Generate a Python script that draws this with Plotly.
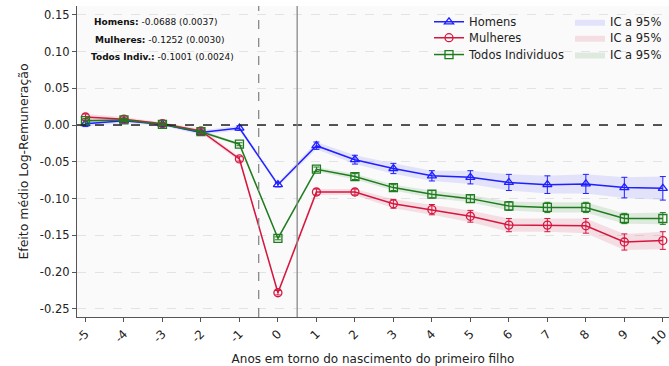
import plotly.graph_objects as go

# Event-study estimates around the birth of the first child
anos = list(range(-5, 11))

homens = [0.002, 0.006, 0.001, -0.010, -0.004, -0.081, -0.028, -0.047,
          -0.059, -0.069, -0.071, -0.078, -0.081, -0.080, -0.085, -0.086]
homens_ic = [0.004, 0.003, 0.002, 0.003, 0.003, 0.003, 0.005, 0.006,
             0.007, 0.007, 0.009, 0.011, 0.012, 0.013, 0.014, 0.016]

mulheres = [0.011, 0.008, 0.002, -0.008, -0.046, -0.228, -0.091, -0.091,
            -0.107, -0.115, -0.124, -0.136, -0.136, -0.137, -0.159, -0.157]
mulheres_ic = [0.004, 0.003, 0.002, 0.003, 0.003, 0.003, 0.004, 0.004,
               0.006, 0.007, 0.008, 0.009, 0.009, 0.010, 0.011, 0.012]

todos = [0.006, 0.007, 0.001, -0.009, -0.026, -0.154, -0.060, -0.070,
         -0.085, -0.094, -0.100, -0.110, -0.112, -0.112, -0.127, -0.127]
todos_ic = [0.003, 0.002, 0.002, 0.002, 0.002, 0.002, 0.003, 0.004,
            0.004, 0.005, 0.005, 0.006, 0.007, 0.007, 0.007, 0.008]

resumo_rotulos = ["Homens:", "Mulheres:", "Todos Indiv.:"]
resumo_valores = ["-0.0688 (0.0037)", "-0.1252 (0.0030)", "-0.1001 (0.0024)"]

y_ticks = [0.15, 0.10, 0.05, 0.00, -0.05, -0.10, -0.15, -0.20, -0.25]

series = [
    ("Homens", homens, homens_ic, "#1f1fff", "rgba(60,60,255,0.12)", "triangle-up-open"),
    ("Mulheres", mulheres, mulheres_ic, "#d6163f", "rgba(214,22,63,0.12)", "circle-open"),
    ("Todos Individuos", todos, todos_ic, "#1e7b1e", "rgba(30,123,30,0.12)", "square-open"),
]

FONT = "DejaVu Sans"
L, R = 77, 669
H_TOP, H_BOT = 6, 320


def px_x(px):
    return (px - L) / (R - L)


def px_y(py):
    return 1 - (py - H_TOP) / (H_BOT - H_TOP)


fig = go.Figure()

# one legend box per row: left column = series, right column = bands
linhas_legenda = [22, 38, 55]
leg_series = ["legend", "legend2", "legend3"]
leg_faixas = ["legend4", "legend5", "legend6"]

# confidence bands
for (nome, vals, ic, cor, faixa, simb), lg in zip(series, leg_faixas):
    sup = [v + e for v, e in zip(vals, ic)]
    inf = [v - e for v, e in zip(vals, ic)]
    fig.add_trace(go.Scatter(
        x=anos + anos[::-1], y=sup + inf[::-1],
        fill="toself", fillcolor=faixa, line=dict(width=0),
        mode="lines", name="IC a 95%", legend=lg, hoverinfo="skip",
    ))

# point estimates with error bars
for (nome, vals, ic, cor, faixa, simb), lg in zip(series, leg_series):
    fig.add_trace(go.Scatter(
        x=anos, y=vals, mode="lines+markers", name=nome,
        line=dict(color=cor, width=1.5),
        marker=dict(symbol=simb, size=8, color=cor, line=dict(width=1.3, color=cor)),
        error_y=dict(type="data", array=ic, visible=True, thickness=1,
                     width=3, color=cor),
        legend=lg,
    ))

# reference lines
fig.add_shape(type="line", xref="paper", x0=0, x1=1, y0=0, y1=0,
              line=dict(color="#222222", width=1.5, dash="dash"), layer="above")
fig.add_shape(type="line", yref="paper", x0=-0.5, x1=-0.5, y0=0, y1=1,
              line=dict(color="#8a8a8a", width=1.3, dash="dash"))
fig.add_shape(type="line", yref="paper", x0=0.5, x1=0.5, y0=0, y1=1,
              line=dict(color="#8a8a8a", width=1.3))

# summary text in the upper-left corner
resumo_x = [92, 93, 89]
resumo_y = [22, 40, 57]
for rot, val, px, py in zip(resumo_rotulos, resumo_valores, resumo_x, resumo_y):
    fig.add_annotation(
        xref="paper", yref="paper", x=px_x(px), y=px_y(py),
        xanchor="left", yanchor="middle", showarrow=False,
        text=f"<b>{rot}</b> {val}",
        font=dict(family=FONT, size=9, color="#111111"),
    )

legendas = {}
for lg, py in zip(leg_series, linhas_legenda):
    legendas[lg] = dict(x=px_x(429), y=px_y(py), xanchor="left", yanchor="middle",
                        bgcolor="rgba(0,0,0,0)", font=dict(family=FONT, size=11.5))
for lg, py in zip(leg_faixas, linhas_legenda):
    legendas[lg] = dict(x=px_x(570), y=px_y(py), xanchor="left", yanchor="middle",
                        bgcolor="rgba(0,0,0,0)", font=dict(family=FONT, size=11.5))

fig.update_layout(
    width=669, height=366,
    margin=dict(l=L, r=0, t=H_TOP, b=366 - H_BOT),
    paper_bgcolor="white", plot_bgcolor="#fafafa",
    font=dict(family=FONT, size=12, color="#222222"),
    showlegend=True,
    **legendas,
)

fig.update_xaxes(
    range=[-5.22, 10.16], tickvals=anos, ticktext=[str(a) for a in anos],
    tickangle=-45, ticks="outside", ticklen=4, tickcolor="#555555",
    ticklabeloverflow="allow",
    showline=True, linecolor="#555555", linewidth=1.2, showgrid=False,
    zeroline=False, tickfont=dict(size=12),
    title=dict(text="Anos em torno do nascimento do primeiro filho",
               font=dict(size=12), standoff=10),
)
fig.update_yaxes(
    range=[-0.261, 0.162], tickvals=y_ticks,
    ticktext=[f"{v:.2f}" for v in y_ticks],
    ticks="outside", ticklen=4, tickcolor="#555555",
    showline=True, linecolor="#555555", linewidth=1.2,
    showgrid=True, gridcolor="#e3e3e3", griddash="dash", gridwidth=1,
    zeroline=False, tickfont=dict(size=11.5),
    title=dict(text="Efeito médio Log-Remuneração", font=dict(size=12.5), standoff=8),
)

fig.write_html("out.html")
